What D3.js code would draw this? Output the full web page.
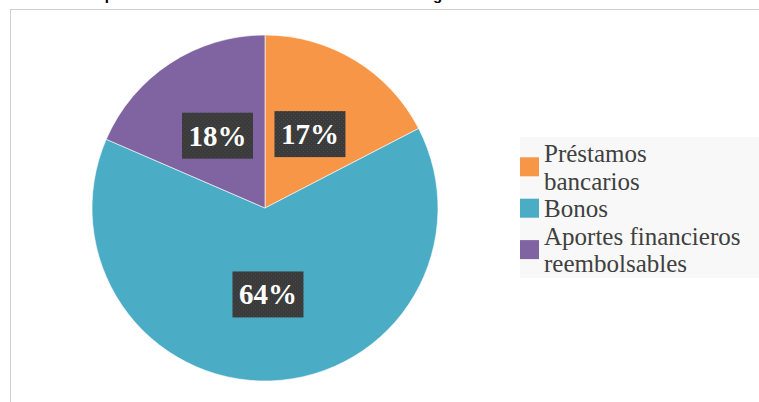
<!DOCTYPE html>
<html>
<head>
<meta charset="utf-8">
<script src="https://cdn.jsdelivr.net/npm/d3@7"></script>
<style>
  body { margin: 0; background: #fff; }
  svg { display: block; }
</style>
</head>
<body>
<div id="chart"></div>
<script>
// data
var categories = ["Préstamos bancarios", "Bonos", "Aportes financieros reembolsables"];
var shares = [17.4, 64.1, 18.5];
var pctLabels = ["17%", "64%", "18%"];
var legendLines = [["Préstamos", "bancarios"], ["Bonos"], ["Aportes financieros", "reembolsables"]];
var colors = ["#F79646", "#4BACC6", "#8064A2"];
var title = "Gráfico 3. Composición de las fuentes de financiamiento obligado a rendir";

var w = 759;
var h = 402;
var cx = 265;
var cy = 208;
var r = 173;

var svg = d3.select("#chart")
    .append("svg")
    .attr("width", w)
    .attr("height", h);

// dotted fill for the label boxes
var defs = svg.append("defs");
var pat = defs.append("pattern")
    .attr("id", "dots")
    .attr("width", 4)
    .attr("height", 4)
    .attr("patternUnits", "userSpaceOnUse");
pat.append("rect").attr("width", 4).attr("height", 4).attr("fill", "#3a3a3a");
pat.append("rect").attr("x", 1).attr("y", 1).attr("width", 1).attr("height", 1).attr("fill", "#4d4d4d");
pat.append("rect").attr("x", 3).attr("y", 3).attr("width", 1).attr("height", 1).attr("fill", "#4d4d4d");

// title, cut off at the top like the source
svg.append("text")
    .attr("x", -2)
    .attr("y", -0.5)
    .attr("font-family", "Liberation Sans, Arial, sans-serif")
    .attr("font-weight", "bold")
    .attr("font-size", "15px")
    .attr("fill", "#000")
    .text(title);

// chart frame
svg.append("rect")
    .attr("x", 10.5)
    .attr("y", 9.5)
    .attr("width", w + 10)
    .attr("height", h + 10)
    .attr("fill", "none")
    .attr("stroke", "#d0d0d0")
    .attr("stroke-width", 1);

var pie = d3.pie().sort(null).value(function(d) { return d; });
var arcs = pie(shares);
var arc = d3.arc().innerRadius(0).outerRadius(r);

var g = svg.append("g").attr("transform", "translate(" + cx + "," + cy + ")");

g.selectAll("path")
    .data(arcs)
    .enter()
    .append("path")
    .attr("d", arc)
    .attr("fill", function(d, i) { return colors[i]; })
    .attr("stroke", "#ffffff")
    .attr("stroke-width", 0.6);

// percentage labels in dark boxes
var boxW = 71;
var boxH = 46;
var lab = g.selectAll("g.lab")
    .data(arcs)
    .enter()
    .append("g")
    .attr("class", "lab")
    .attr("transform", function(d) {
        var c = arc.centroid(d);
        return "translate(" + c[0] + "," + c[1] + ")";
    });

lab.append("rect")
    .attr("x", -boxW / 2)
    .attr("y", -boxH / 2)
    .attr("width", boxW)
    .attr("height", boxH)
    .attr("fill", "url(#dots)");

lab.append("text")
    .attr("text-anchor", "middle")
    .attr("y", 10)
    .attr("font-family", "Liberation Serif, Cambria, serif")
    .attr("font-weight", "bold")
    .attr("font-size", "29px")
    .attr("fill", "#ffffff")
    .text(function(d, i) { return pctLabels[i]; });

// legend
var legX = 520;
var firstBase = 162;
var lineH = 27.6;

svg.append("rect")
    .attr("x", legX)
    .attr("y", 137)
    .attr("width", w - legX)
    .attr("height", 141)
    .attr("fill", "#f8f8f8");

var line = 0;
var leg = svg.append("g");
categories.forEach(function(cat, i) {
    var bases = legendLines[i].map(function(t, k) { return firstBase + (line + k) * lineH; });
    var mid = d3.mean(bases) - 9;
    leg.append("rect")
        .attr("x", legX)
        .attr("y", mid - 9.5)
        .attr("width", 19)
        .attr("height", 19)
        .attr("fill", colors[i]);
    legendLines[i].forEach(function(t, k) {
        leg.append("text")
            .attr("x", 544)
            .attr("y", bases[k])
            .attr("font-family", "Liberation Serif, Cambria, serif")
            .attr("font-size", "25px")
            .attr("fill", "#404040")
            .text(t);
    });
    line += legendLines[i].length;
});
</script>
</body>
</html>
